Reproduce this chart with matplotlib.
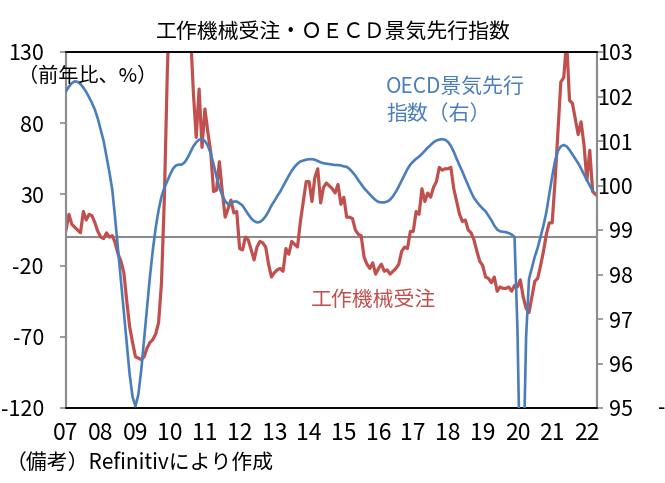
import numpy as np
import matplotlib
matplotlib.use("Agg")
import matplotlib.pyplot as plt

plt.rcParams['font.family'] = ['Noto Sans CJK JP', 'DejaVu Sans']
plt.rcParams['axes.unicode_minus'] = False

# ---- data (monthly, Jan 2007 - Apr 2022) ----
machine_tool_orders = [
    5, 16, 9, 7, 5, 3, 18, 12, 16, 15, 10, 4,                       # 2007
    0, -1, 3, 0, 1, -4, -12, -17, -25, -45, -63, -74,                # 2008
    -84, -85, -86, -84, -78, -74, -72, -68, -60, -32, 28, 115,       # 2009
    180, 210, 250, 280, 260, 230, 190, 145, 102, 70, 104, 63,        # 2010
    90, 74, 60, 32, 33, 53, 32, 14, 20, 26, 17, 18,                  # 2011
    -8, -9, 0, -2, -9, -16, -7, -3, -4, -7, -19, -28,                # 2012
    -25, -23, -22, -24, -8, -12, -3, -5, -7, 11, 25, 39,             # 2013
    39, 25, 42, 48, 24, 35, 38, 36, 34, 31, 37, 23,                  # 2014
    28, 14, 14, 13, 5, 2, 1, -14, -19, -22, -18, -26,                # 2015
    -22, -19, -24, -23, -26, -24, -22, -19, -10, -7, -8, 4,          # 2016
    4, 18, 16, 34, 25, 31, 28, 35, 39, 49, 47, 48,                   # 2017
    48, 49, 34, 25, 16, 11, 12, 5, 3, -2, -10, -17,                  # 2018
    -20, -28, -29, -32, -28, -38, -35, -36, -36, -35, -38, -34,      # 2019
    -35, -30, -42, -50, -53, -42, -31, -29, -20, -10, 2, 10,         # 2020
    10, 39, 74, 109, 112, 138, 96, 94, 83, 72, 81, 65,               # 2021
    40, 61, 32, 30,                                                  # 2022 (Jan-Apr)
]
oecd_cli = [
    102.12, 102.22, 102.30, 102.34, 102.33, 102.28, 102.20, 102.10, 101.98, 101.85, 101.70, 101.50,
    101.25, 101.00, 100.65, 100.30, 99.90, 99.25, 98.55, 97.85, 97.15, 96.45, 95.75, 95.25,
    95.04, 95.30, 95.85, 96.55, 97.25, 97.95, 98.55, 99.05, 99.45, 99.75, 99.95, 100.10,
    100.25, 100.38, 100.45, 100.47, 100.47, 100.52, 100.62, 100.75, 100.88, 100.97, 101.03, 101.04,
    101.00, 100.90, 100.72, 100.48, 100.20, 99.95, 99.78, 99.65, 99.58, 99.60, 99.64, 99.64,
    99.60, 99.55, 99.45, 99.35, 99.26, 99.20, 99.17, 99.18, 99.23, 99.31, 99.42, 99.55,
    99.65, 99.76, 99.86, 99.98, 100.10, 100.22, 100.33, 100.42, 100.49, 100.54, 100.56, 100.58,
    100.59, 100.59, 100.58, 100.55, 100.52, 100.50, 100.49, 100.48, 100.47, 100.46, 100.46, 100.45,
    100.43, 100.42, 100.37, 100.30, 100.22, 100.12, 100.03, 99.94, 99.87, 99.80, 99.73, 99.67,
    99.63, 99.62, 99.62, 99.64, 99.68, 99.76, 99.86, 99.98, 100.11, 100.24, 100.37, 100.47,
    100.54, 100.60, 100.65, 100.71, 100.78, 100.85, 100.91, 100.97, 101.01, 101.03, 101.04, 101.03,
    100.98, 100.89, 100.76, 100.60, 100.45, 100.31, 100.15, 100.00, 99.85, 99.72, 99.63, 99.55,
    99.48, 99.42, 99.32, 99.22, 99.10, 99.01, 98.97, 98.96, 98.95, 98.93, 98.90, 98.84,
    96.80, 93.20, 93.50, 96.60, 97.90, 98.15, 98.40, 98.60, 98.85, 99.10, 99.40, 99.80,
    100.20, 100.55, 100.78, 100.88, 100.91, 100.88, 100.80, 100.70, 100.60, 100.50, 100.38, 100.25,
    100.12, 100.00, 99.88, np.nan,
]
year_labels = ['07', '08', '09', '10', '11', '12', '13', '14', '15', '16',
               '17', '18', '19', '20', '21', '22']
left_ticks = [-120, -70, -20, 30, 80, 130]
right_ticks = [95, 96, 97, 98, 99, 100, 101, 102, 103]

RED = '#C0504D'
BLUE = '#4A7EBB'
W, H = 665, 483

fig = plt.figure(figsize=(W / 100, H / 100), dpi=100)
ax = fig.add_axes([66 / W, 1 - 408 / H, (597 - 66) / W, (408 - 52) / H])
ax2 = ax.twinx()

x = np.arange(len(machine_tool_orders))
ax.axhline(0, color='#8C8C8C', lw=1.5, zorder=1)
ax.plot(x, machine_tool_orders, color=RED, lw=2.3, zorder=3, solid_joinstyle='round')
ax2.plot(np.arange(len(oecd_cli)), oecd_cli, color=BLUE, lw=1.9, zorder=3)

ax.set_xlim(0, 183.5)
ax.set_ylim(-120, 130)
ax2.set_ylim(95, 103)
ax.set_yticks(left_ticks)
ax2.set_yticks(right_ticks)
ax.set_xticks(np.arange(len(year_labels)) * 12)
ax.set_xticklabels(year_labels)

for s in ['left', 'right']:
    for a in (ax, ax2):
        a.spines[s].set_color('#8C8C8C')
        a.spines[s].set_linewidth(1.5)
for s in ['top', 'bottom']:
    for a in (ax, ax2):
        a.spines[s].set_color('black')
        a.spines[s].set_linewidth(1.2)

ax.tick_params(axis='x', length=0, pad=10, labelsize=16.5)
ax.tick_params(axis='y', direction='out', length=4, width=1.2, color='#8C8C8C', pad=12, labelsize=15.5)
ax2.tick_params(axis='y', direction='out', length=4, width=1.2, color='#8C8C8C', pad=22, labelsize=15.5)
for lab in ax2.get_yticklabels():
    lab.set_horizontalalignment('right')

def ft(px, py, s, **kw):
    fig.text(px / W, 1 - py / H, s, **kw)

ft(333, 32, '工作機械受注・ＯＥＣＤ景気先行指数', ha='center', va='center', fontsize=15)
ft(18, 76, '（前年比、%）', ha='left', va='center', fontsize=14.5)
ft(386, 87, 'OECD景気先行', ha='left', va='center', fontsize=15, color=BLUE)
ft(386, 114, '指数（右）', ha='left', va='center', fontsize=15, color=BLUE)
ft(311, 300, '工作機械受注', ha='left', va='center', fontsize=15, color=RED)
ft(6, 463, '（備考）Refinitivにより作成', ha='left', va='center', fontsize=15)
ft(658, 408, '-', ha='left', va='center', fontsize=15)

fig.savefig('out.png', dpi=100)
